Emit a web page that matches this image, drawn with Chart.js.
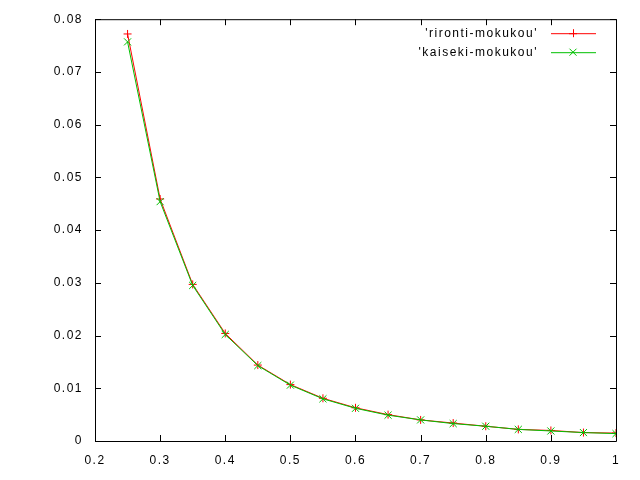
<!DOCTYPE html>
<html>
<head>
<meta charset="utf-8">
<script src="https://cdn.jsdelivr.net/npm/chart.js@4.4.1/dist/chart.umd.min.js"></script>
<style>
  html, body { margin: 0; padding: 0; background: #fff; }
  canvas { display: block; }
</style>
</head>
<body>
<canvas id="plot" width="640" height="480"></canvas>
<script>
// values
const xValues = [0.25, 0.3, 0.35, 0.4, 0.45, 0.5, 0.55, 0.6, 0.65, 0.7, 0.75, 0.8, 0.85, 0.9, 0.95, 1.0];
const rironti = [0.0772, 0.0459, 0.0297, 0.0204, 0.0144, 0.0107, 0.0081, 0.0063, 0.0050, 0.0040, 0.0034, 0.0028, 0.0022, 0.0020, 0.0016, 0.0015];
const kaiseki = [0.0757, 0.0454, 0.0295, 0.0202, 0.0143, 0.0106, 0.0080, 0.0062, 0.0049, 0.0040, 0.0033, 0.0028, 0.0022, 0.0019, 0.0016, 0.0014];
const seriesNames = ["'rironti-mokukou'", "'kaiseki-mokukou'"];
const xRange = [0.2, 1];
const yRange = [0, 0.08];

const FONT = 'Liberation Sans';

function toPoints(ys) {
  return xValues.map((x, i) => ({ x: x, y: ys[i] }));
}

// gnuplot style labels: 0.2 ... 1, 0 ... 0.08
function plainNumber(value) {
  return String(Number(value.toFixed(3)));
}

// gnuplot look: box, ticks pointing in on all four sides, key in top right
const gnuplotFrame = {
  id: 'gnuplotFrame',
  beforeDraw(chart) {
    chart.ctx.letterSpacing = '1.5px';
  },
  afterDraw(chart) {
    const ctx = chart.ctx;
    const a = chart.chartArea;
    const xs = chart.scales.x, ys = chart.scales.y;
    const tick = 6;
    ctx.save();
    ctx.strokeStyle = '#000';
    ctx.lineWidth = 1;
    ctx.beginPath();
    ctx.rect(a.left + 0.5, a.top + 0.5, a.right - a.left, a.bottom - a.top);
    xs.ticks.forEach(t => {
      const px = Math.round(xs.getPixelForValue(t.value)) + 0.5;
      ctx.moveTo(px, a.bottom); ctx.lineTo(px, a.bottom - tick);
      ctx.moveTo(px, a.top); ctx.lineTo(px, a.top + tick);
    });
    ys.ticks.forEach(t => {
      const py = Math.round(ys.getPixelForValue(t.value)) + 0.5;
      ctx.moveTo(a.left, py); ctx.lineTo(a.left + tick, py);
      ctx.moveTo(a.right, py); ctx.lineTo(a.right - tick, py);
    });
    ctx.stroke();

    // key
    ctx.font = '12px "' + FONT + '"';
    ctx.textAlign = 'right';
    ctx.textBaseline = 'middle';
    chart.data.datasets.forEach((ds, i) => {
      const y = a.top + 14 + i * 19;
      ctx.fillStyle = '#000';
      ctx.fillText(ds.label, a.right - 78, y);
      ctx.strokeStyle = ds.borderColor;
      ctx.beginPath();
      ctx.moveTo(a.right - 65, y + 0.5);
      ctx.lineTo(a.right - 20, y + 0.5);
      const cx = a.right - 43;
      if (ds.pointStyle === 'cross') {
        ctx.moveTo(cx - 4, y + 0.5); ctx.lineTo(cx + 4, y + 0.5);
        ctx.moveTo(cx + 0.5, y - 4); ctx.lineTo(cx + 0.5, y + 4);
      } else {
        ctx.moveTo(cx - 3.5, y - 3.5); ctx.lineTo(cx + 3.5, y + 3.5);
        ctx.moveTo(cx - 3.5, y + 3.5); ctx.lineTo(cx + 3.5, y - 3.5);
      }
      ctx.stroke();
    });
    ctx.restore();
  }
};

new Chart(document.getElementById('plot'), {
  type: 'scatter',
  data: {
    datasets: [{
      label: seriesNames[0],
      data: toPoints(rironti),
      showLine: true,
      borderColor: '#ff0000',
      backgroundColor: '#ff0000',
      borderWidth: 1,
      pointStyle: 'cross',
      pointRadius: 4,
      pointBorderWidth: 1,
      order: 1
    }, {
      label: seriesNames[1],
      data: toPoints(kaiseki),
      showLine: true,
      borderColor: '#00c000',
      backgroundColor: '#00c000',
      borderWidth: 1,
      pointStyle: 'crossRot',
      pointRadius: 5,
      pointBorderWidth: 1,
      order: 0
    }]
  },
  options: {
    responsive: false,
    animation: false,
    layout: { padding: { top: 19, right: 24, left: 0, bottom: 0 } },
    plugins: {
      legend: { display: false },
      tooltip: { enabled: false }
    },
    scales: {
      x: {
        type: 'linear',
        min: xRange[0],
        max: xRange[1],
        grid: { display: false, drawTicks: false },
        border: { display: false },
        ticks: {
          stepSize: 0.1,
          color: '#000',
          padding: 12,
          maxRotation: 0,
          font: { family: FONT, size: 12 },
          callback: plainNumber
        },
        afterFit: s => { s.height = 39; }
      },
      y: {
        min: yRange[0],
        max: yRange[1],
        grid: { display: false, drawTicks: false },
        border: { display: false },
        ticks: {
          stepSize: 0.01,
          color: '#000',
          padding: 12,
          font: { family: FONT, size: 12 },
          callback: plainNumber
        },
        afterFit: s => { s.width = 95; }
      }
    }
  },
  plugins: [gnuplotFrame]
});
</script>
</body>
</html>
